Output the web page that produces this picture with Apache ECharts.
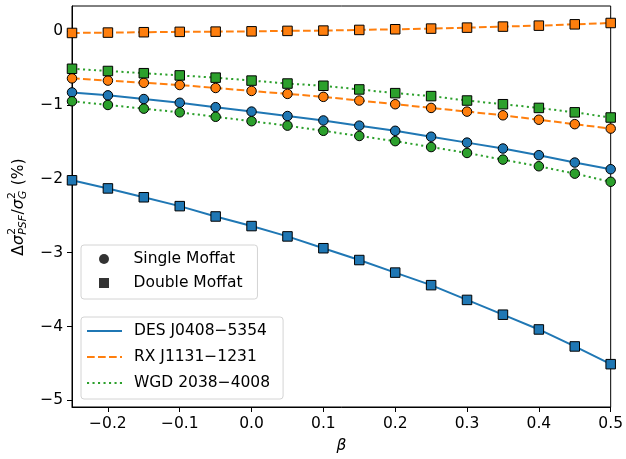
<!DOCTYPE html>
<html>
<head>
<meta charset="utf-8">
<script src="https://cdn.jsdelivr.net/npm/echarts@6/dist/echarts.min.js"></script>
<style>
  html, body { margin: 0; padding: 0; background: #fff; }
  #chart { width: 626px; height: 459px; }
</style>
</head>
<body>
<div id="chart"></div>
<script>
// PSF-width bias versus beta for three lensed quasars
const beta = [-0.25, -0.2, -0.15, -0.1, -0.05, 0.0, 0.05, 0.1, 0.15, 0.2, 0.25, 0.3, 0.35, 0.4, 0.45, 0.5];

const desSingle = [-0.83, -0.87, -0.92, -0.97, -1.03, -1.09, -1.15, -1.21, -1.28, -1.35, -1.43, -1.51, -1.59, -1.68, -1.78, -1.87];
const desDouble = [-2.02, -2.13, -2.25, -2.37, -2.51, -2.64, -2.78, -2.94, -3.10, -3.27, -3.44, -3.64, -3.84, -4.04, -4.27, -4.51];
const rxSingle  = [-0.64, -0.67, -0.70, -0.73, -0.77, -0.81, -0.85, -0.89, -0.94, -0.99, -1.04, -1.09, -1.14, -1.20, -1.26, -1.32];
const rxDouble  = [-0.025, -0.02, -0.015, -0.01, -0.007, -0.003, 0.003, 0.007, 0.016, 0.025, 0.034, 0.047, 0.061, 0.074, 0.092, 0.11];
const wgdSingle = [-0.95, -1.00, -1.05, -1.10, -1.16, -1.22, -1.28, -1.35, -1.42, -1.49, -1.57, -1.65, -1.74, -1.83, -1.93, -2.04];
const wgdDouble = [-0.51, -0.54, -0.57, -0.60, -0.63, -0.67, -0.71, -0.74, -0.79, -0.84, -0.88, -0.94, -0.99, -1.04, -1.10, -1.17];

const objects = ['DES J0408\u22125354', 'RX J1131\u22121231', 'WGD 2038\u22124008'];
const modelNames = ['Single Moffat', 'Double Moffat'];
const xTicks = [-0.2, -0.1, 0.0, 0.1, 0.2, 0.3, 0.4, 0.5];
const yTicks = [-5, -4, -3, -2, -1, 0];

const FONT = '"DejaVu Sans", sans-serif';
const FS = 15.5;
const colors = ['#1f77b4', '#ff7f0e', '#2ca02c'];
const lineTypes = ['solid', [7.7, 3.3], [2.1, 3.4]];

// legend handles drawn as filled strips (solid, dashed, dotted), 35 x 2
const handleIcons = [
  'path://M0,0H35V2H0Z',
  'path://M0,0H7.7V2H0Z M11,0H18.7V2H11Z M22,0H29.7V2H22Z M33,0H35V2H33Z',
  'path://M0,0H2.1V2H0Z M5.5,0H7.6V2H5.5Z M11,0H13.1V2H11Z M16.5,0H18.6V2H16.5Z M22,0H24.1V2H22Z M27.5,0H29.6V2H27.5Z M32.9,0H35V2H32.9Z'
];

const minus = s => s.replace('-', '\u2212');
const zip = ys => beta.map((b, i) => [b, ys[i]]);

// empty series that carry the legend names
const series = [];
objects.forEach((name, k) => {
  series.push({
    name, type: 'line', data: [], symbol: 'none',
    lineStyle: { color: colors[k], width: 2, type: lineTypes[k] },
    itemStyle: { color: colors[k] }
  });
});
series.push({ name: modelNames[0], type: 'scatter', data: [], symbol: 'circle', itemStyle: { color: '#000' } });
series.push({ name: modelNames[1], type: 'scatter', data: [], symbol: 'rect', itemStyle: { color: '#000' } });

const groups = [[desSingle, desDouble], [rxSingle, rxDouble], [wgdSingle, wgdDouble]];
groups.forEach((pair, k) => {
  pair.forEach((ys, m) => {
    series.push({
      name: objects[k] + ' / ' + modelNames[m],
      type: 'line',
      data: zip(ys),
      symbol: m === 0 ? 'circle' : 'rect',
      symbolSize: 9.5,
      showSymbol: true,
      animation: false,
      lineStyle: { color: colors[k], width: 2, type: lineTypes[k], cap: 'butt' },
      itemStyle: { color: colors[k], borderColor: '#000', borderWidth: 1 },
      emphasis: { disabled: true },
      z: 3
    });
  });
});

// y-axis title built from pieces to get stacked super/subscripts
const measureCtx = document.createElement('canvas').getContext('2d');
function textWidth(t, font) { measureCtx.font = font; return measureCtx.measureText(t).width; }
function buildYTitle() {
  const base = FS, small = FS * 0.7;
  const fN = `${base}px ${FONT}`, fI = `italic ${base}px ${FONT}`;
  const sN = `${small}px ${FONT}`, sI = `italic ${small}px ${FONT}`;
  const pieces = [
    { t: '\u0394', f: fN },
    { t: '\u03c3', f: fI },
    { stack: [{ t: '2', f: sN, dy: -6.5 }, { t: 'PSF', f: sI, dy: 4.5 }] },
    { t: '/', f: fN },
    { t: '\u03c3', f: fI },
    { stack: [{ t: '2', f: sN, dy: -6.5 }, { t: 'G', f: sI, dy: 4.5 }] },
    { t: ' (%)', f: fN }
  ];
  const items = [];
  let x = 0;
  pieces.forEach(p => {
    if (p.stack) {
      let w = 0;
      p.stack.forEach(s => {
        items.push({ t: s.t, f: s.f, x: x + 0.5, y: s.dy });
        w = Math.max(w, textWidth(s.t, s.f));
      });
      x += w + 1;
    } else {
      items.push({ t: p.t, f: p.f, x, y: 0 });
      x += textWidth(p.t, p.f);
    }
  });
  const half = x / 2;
  return items.map(it => ({
    type: 'text',
    x: it.x - half, y: it.y,
    style: { text: it.t, font: it.f, fill: '#000', align: 'left', verticalAlign: 'middle',
             textAlign: 'left', textVerticalAlign: 'middle' }
  }));
}

const legendCommon = {
  orient: 'vertical',
  selectedMode: false,
  backgroundColor: 'rgba(255,255,255,0.8)',
  borderColor: '#d4d4d4',
  borderWidth: 1,
  borderRadius: 3,
  itemStyle: { borderWidth: 0 },
  textStyle: { fontFamily: FONT, fontSize: FS, color: '#000', lineHeight: 18, padding: [0, 0, 0, 7] },
  z: 10
};

const option = {
  animation: false,
  backgroundColor: '#fff',
  grid: { left: 72, right: 15, top: 6, bottom: 51, show: true, borderColor: '#000', borderWidth: 1, backgroundColor: 'transparent' },
  xAxis: {
    type: 'value', min: -0.25, max: 0.5,
    name: '\u03b2', nameLocation: 'middle', nameGap: 31,
    nameTextStyle: { fontFamily: FONT, fontSize: FS, fontStyle: 'italic', color: '#000' },
    axisLine: { show: true, onZero: false, lineStyle: { color: '#000', width: 1 } },
    axisTick: { show: true, inside: false, length: 5, customValues: xTicks, lineStyle: { color: '#000', width: 1 } },
    axisLabel: { customValues: xTicks, margin: 9, fontFamily: FONT, fontSize: FS, color: '#000',
                 formatter: v => minus(v.toFixed(1)) },
    splitLine: { show: false }
  },
  yAxis: {
    type: 'value', min: -5.09, max: 0.34,
    axisLine: { show: true, onZero: false, lineStyle: { color: '#000', width: 1 } },
    axisTick: { show: true, inside: false, length: 5, customValues: yTicks, lineStyle: { color: '#000', width: 1 } },
    axisLabel: { customValues: yTicks, margin: 9, fontFamily: FONT, fontSize: FS, color: '#000',
                 formatter: v => minus(String(Math.round(v))) },
    splitLine: { show: false }
  },
  legend: [
    Object.assign({}, legendCommon, {
      data: [
        { name: modelNames[0], icon: 'circle' },
        { name: modelNames[1], icon: 'path://M0,0H10V10H0Z' }
      ],
      itemWidth: 35, itemHeight: 10, symbolKeepAspect: true,
      left: 81, top: 245, itemGap: 6, padding: [5, 15, 7, 18]
    }),
    Object.assign({}, legendCommon, {
      data: objects.map((name, k) => ({ name, icon: handleIcons[k] })),
      itemWidth: 35, itemHeight: 2, symbolKeepAspect: false,
      left: 81, top: 317, itemGap: 8, padding: [5, 13, 7, 6]
    })
  ],
  graphic: [{
    type: 'group', x: 19, y: 207, rotation: Math.PI / 2,
    children: buildYTitle()
  }],
  series
};

const chart = echarts.init(document.getElementById('chart'), null, { renderer: 'canvas' });
chart.setOption(option);
</script>
</body>
</html>
